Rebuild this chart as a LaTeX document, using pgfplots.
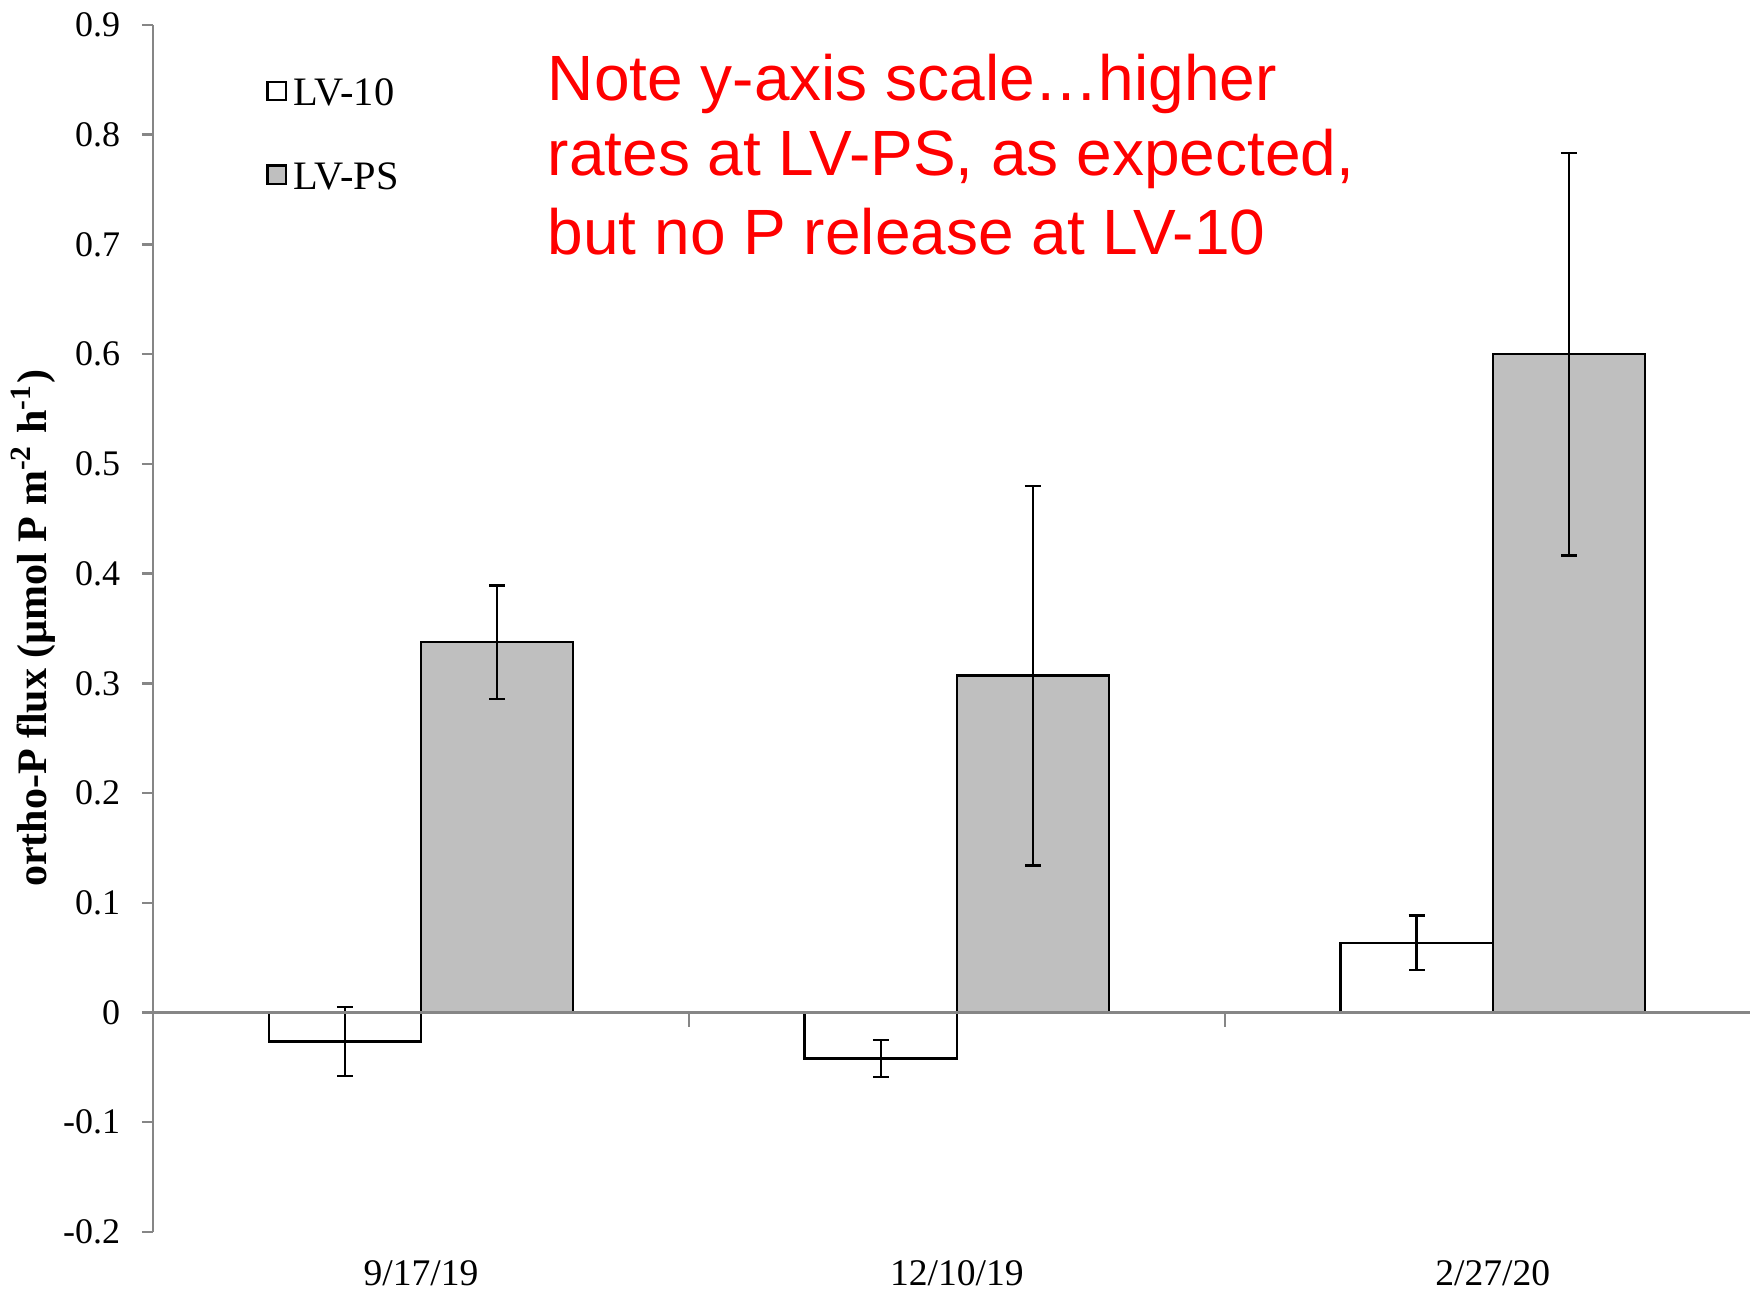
\documentclass[border=0pt]{standalone}
\usepackage{pgfplots}
\pgfplotsset{compat=1.18}
\usepackage{fontspec}
\setmainfont{Liberation Serif}
\newfontfamily\arialf{Liberation Sans}
\definecolor{axgray}{RGB}{134,134,134}
\definecolor{barfill}{RGB}{191,191,191}
\definecolor{notered}{RGB}{255,0,0}
% bar centres: category index -0.142 (LV-10) / +0.142 (LV-PS)
\pgfplotstableread{
x y e
-0.142 -0.0265 0.0315
0.858 -0.042 0.017
1.858 0.0636 0.025
}\lvten
\pgfplotstableread{
x y e
0.142 0.3375 0.0515
1.142 0.307 0.173
2.142 0.600 0.1835
}\lvps
\begin{document}
\begin{tikzpicture}
\useasboundingbox (0,0) rectangle (437.5pt,326.75pt);
\begin{axis}[
  at={(38.25pt,18.75pt)}, anchor=south west, scale only axis,
  width=399.25pt, height=301.75pt,
  xmin=-0.5, xmax=2.48, ymin=-0.2, ymax=0.9,
  axis lines=left,
  axis line style={-, axgray, line width=0.6pt},
  x axis line style={draw=none},
  tick align=outside, major tick length=2.75pt,
  ytick={-0.2,-0.1,0,0.1,0.2,0.3,0.4,0.5,0.6,0.7,0.8,0.9},
  ytick style={axgray, line width=0.6pt},
  ytick pos=left,
  xtick={0,1,2},
  xticklabels={9/17/19,12/10/19,2/27/20},
  xtick style={draw=none},
  /pgf/number format/assume math mode=true,
  yticklabel style={/pgf/number format/fixed, /pgf/number format/precision=1, font=\fontsize{9}{11}\selectfont, inner sep=0pt, anchor=east, xshift=-5.25pt},
  xticklabel style={font=\fontsize{9.4}{11}\selectfont, inner sep=0pt, anchor=north, yshift=-4.2pt},
  ylabel={ortho-P flux (µmol P m\textsuperscript{-2} h\textsuperscript{-1})},
  ylabel style={font=\bfseries\fontsize{10.5}{12}\selectfont, at={(axis description cs:-0.0751,0.5)}, anchor=center},
  legend style={draw=none, fill=none, at={(axis description cs:0.0705,0.9595)}, anchor=north west,
    font=\fontsize{10.1}{12}\selectfont, row sep=10.7pt, inner sep=0pt, nodes={inner sep=1pt}},
  legend cell align=left,
  legend image code/.code={\draw[#1, line width=0.6pt] (0pt,-1.3pt) rectangle (4.6pt,3.3pt); \path (5.3pt,0pt);},
]
\addplot[ybar, bar width=0.284, bar shift=0pt, fill=white, draw=black, line width=0.6pt,
  error bars/.cd, y dir=both, y explicit,
  error bar style={line width=0.6pt, black},
  error mark options={rotate=90, mark size=2pt, line width=0.6pt, black}]
  table[x=x, y=y, y error=e] {\lvten};
\addlegendentry{LV-10}
\addplot[ybar, bar width=0.284, bar shift=0pt, fill=barfill, draw=black, line width=0.6pt,
  error bars/.cd, y dir=both, y explicit,
  error bar style={line width=0.6pt, black},
  error mark options={rotate=90, mark size=2pt, line width=0.6pt, black}]
  table[x=x, y=y, y error=e] {\lvps};
\addlegendentry{LV-PS}
\draw[axgray, line width=0.6pt] (axis cs:-0.5,0) -- (axis cs:2.48,0);
\draw[axgray, line width=0.6pt] (axis cs:0.5,0) -- ++(0pt,-3.5pt);
\draw[axgray, line width=0.6pt] (axis cs:1.5,0) -- ++(0pt,-3.5pt);
\end{axis}
\begin{scope}[every node/.style={anchor=base west, inner sep=0pt, text=notered, font=\arialf\fontsize{16}{19}\selectfont}]
\node at (136.75pt,301.56pt) {Note y-axis scale…higher};
\node at (136.75pt,282.75pt) {rates at LV-PS, as expected,};
\node at (136.75pt,263.2pt) {but no P release at LV-10};
\end{scope}
\end{tikzpicture}
\end{document}
